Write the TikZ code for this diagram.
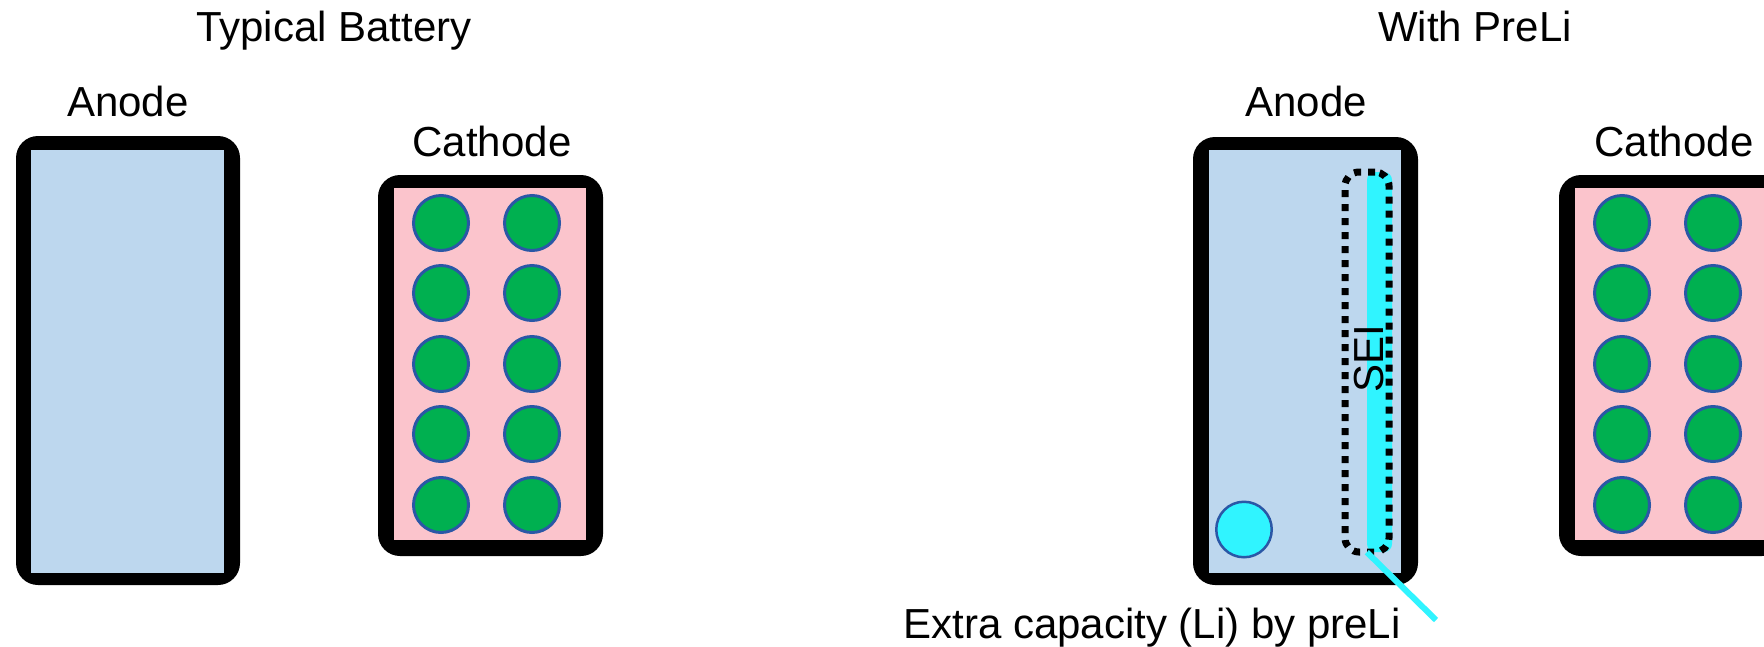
\documentclass[tikz,border=0pt]{standalone}
\usepackage{fontspec}
\setmainfont{Liberation Sans}
\definecolor{anodeblue}{HTML}{BDD7EE}
\definecolor{cathpink}{HTML}{FBC4CC}
\definecolor{partgreen}{HTML}{00B050}
\definecolor{partblue}{HTML}{2A57A6}
\definecolor{licyan}{HTML}{30F4FF}
\begin{document}
\begin{tikzpicture}[x=1pt,y=-1pt,
  lbl/.style={anchor=base, font=\fontsize{42}{50}\selectfont, inner sep=0pt},
  frame/.style={fill=black, rounded corners=22pt, draw=none, inner sep=0pt},
  anodefill/.style={fill=anodeblue, draw=none, inner sep=0pt},
  cathfill/.style={fill=cathpink, draw=none, inner sep=0pt},
  particle/.style={circle, fill=partgreen, draw=partblue, line width=3pt, minimum size=55pt, inner sep=0pt},
  liball/.style={circle, fill=licyan, draw=partblue, line width=2.5pt, minimum size=55.5pt, inner sep=0pt},
  seibox/.style={draw=black, line width=7pt, dash pattern=on 7pt off 7pt, rounded corners=14pt, minimum width=44pt, minimum height=380pt, inner sep=0pt},
  libar/.style={fill=licyan, draw=none, rounded corners=8pt, minimum width=25pt, minimum height=380pt, inner sep=0pt},
  liline/.style={draw=licyan, line width=6pt}]
\useasboundingbox[fill=white] (0,0) rectangle (1764,646);

% Titles
\node[lbl] (t1) at (334,41) {Typical Battery};
\node[lbl] (t2) at (1475,41) {With PreLi};

% Left anode
\node[frame, minimum width=224pt, minimum height=449pt] (a1) at (128,360.5) {};
\node[anodefill, minimum width=193pt, minimum height=423pt] (a1in) at (127.5,361.5) {};
\node[lbl] (a1l) at (128,116) {Anode};

% Left cathode
\node[frame, minimum width=225pt, minimum height=381pt] (c1) at (490.5,365.5) {};
\node[cathfill, minimum width=192pt, minimum height=352pt] (c1in) at (490,364) {};
\node[lbl] (c1l) at (492,156) {Cathode};
\foreach \r/\y in {1/223,2/293,3/364,4/434,5/505}{
  \node[particle] (p1a\r) at (441,\y) {};
  \node[particle] (p1b\r) at (532,\y) {};
}

% Right anode
\node[frame, minimum width=225pt, minimum height=448pt] (a2) at (1305.5,361) {};
\node[anodefill, minimum width=192pt, minimum height=423pt] (a2in) at (1305,361.5) {};
\node[lbl] (a2l) at (1306,116) {Anode};

% Right cathode
\node[frame, minimum width=225pt, minimum height=381pt] (c2) at (1671.5,365.5) {};
\node[cathfill, minimum width=192pt, minimum height=352pt] (c2in) at (1671,364) {};
\node[lbl] (c2l) at (1674,156) {Cathode};
\foreach \r/\y in {1/223,2/293,3/364,4/434,5/505}{
  \node[particle] (p2a\r) at (1622,\y) {};
  \node[particle] (p2b\r) at (1713,\y) {};
}

% Pre-lithiation layer and SEI
\node[libar] (bar) at (1379.5,362) {};
\node[font=\fontsize{42}{50}\selectfont, inner sep=0pt, rotate=90] (sei) at (1369,358.5) {SEI};
\node[seibox] (seib) at (1367,362) {};
\node[liball] (li) at (1244,529.5) {};

% Callout
\coordinate (lend) at (1436,620);
\draw[liline] (bar.south west) -- (lend);
\node[lbl] (extra) at (1152,638) {Extra capacity (Li) by preLi};
\end{tikzpicture}
\end{document}
